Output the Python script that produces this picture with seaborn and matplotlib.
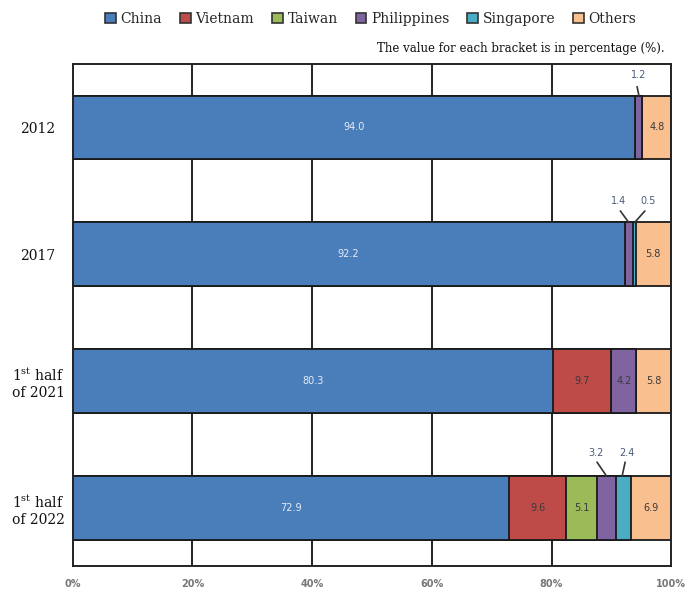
import numpy as np
import pandas as pd
import matplotlib
matplotlib.use("Agg")
import matplotlib.pyplot as plt
from matplotlib.patches import Patch
import seaborn as sns

# ---- data ----
periods = ["2012", "2017", "1st half of 2021", "1st half of 2022"]
period_labels = ["2012", "2017", "1$^{\\mathrm{st}}$ half\nof 2021", "1$^{\\mathrm{st}}$ half\nof 2022"]
series = ["China", "Vietnam", "Taiwan", "Philippines", "Singapore", "Others"]
china = [94.0, 92.2, 80.3, 72.9]
vietnam = [0.0, 0.0, 9.7, 9.6]
taiwan = [0.0, 0.0, 0.0, 5.1]
philippines = [1.2, 1.4, 4.2, 3.2]
singapore = [0.0, 0.5, 0.0, 2.4]
others = [4.8, 5.8, 5.8, 6.9]
xticks = [0, 20, 40, 60, 80, 100]
xtick_labels = ["0%", "20%", "40%", "60%", "80%", "100%"]

colors = ["#4A7EBB", "#BE4B48", "#9BBB59", "#8064A2", "#4BACC6", "#F9BF8F"]

values = np.array([china, vietnam, taiwan, philippines, singapore, others])
cum = np.cumsum(values, axis=0)

sns.set_style("white")
plt.rcParams["font.family"] = ["DejaVu Serif"]
plt.rcParams["mathtext.fontset"] = "dejavuserif"

fig = plt.figure(figsize=(6.87, 5.91), dpi=100)
ax = fig.add_axes([0.106, 0.042, 0.871, 0.850])

# vertical grid behind bars
for xv in xticks[1:-1]:
    ax.axvline(xv, color="#222222", lw=1.4, zorder=0)

# stacked bars: draw cumulative totals from the last series back to the first
for i in range(len(series) - 1, -1, -1):
    df = pd.DataFrame({"period": periods, "value": cum[i]})
    sns.barplot(data=df, x="value", y="period", orient="h", color=colors[i],
                saturation=1, width=0.5, edgecolor="#1a1a1a", linewidth=1.3,
                ax=ax, zorder=2)

# value labels inside segments
lefts = cum - values
for i in range(len(series)):
    for j in range(len(periods)):
        v = values[i, j]
        if v >= 4.0:
            xc = lefts[i, j] + v / 2
            col = "#E6ECF5" if i == 0 else "#3a3a3a"
            ax.text(xc, j, f"{v:.1f}", ha="center", va="center", fontsize=7,
                    color=col, family="DejaVu Sans", zorder=5)

# small values annotated above with leader lines
ann_color = "#4a5a7a"
def leader(txt, tx, ty, lx0, ly0, lx1, ly1):
    ax.text(tx, ty, txt, ha="center", va="center", fontsize=7, color=ann_color,
            family="DejaVu Sans", zorder=5)
    ax.plot([lx0, lx1], [ly0, ly1], color="#333333", lw=1.2, zorder=5, clip_on=False)

leader(f"{philippines[0]:.1f}", 94.5, -0.41, 94.3, -0.32, 94.6, -0.25)
leader(f"{philippines[1]:.1f}", 91.2, 0.58, 91.5, 0.66, 92.9, 0.75)
leader(f"{singapore[1]:.1f}", 96.1, 0.58, 95.6, 0.66, 93.9, 0.75)
leader(f"{philippines[3]:.1f}", 87.5, 2.57, 87.6, 2.64, 89.2, 2.75)
leader(f"{singapore[3]:.1f}", 92.6, 2.57, 92.3, 2.64, 91.8, 2.75)

ax.set_xlim(0, 100)
ax.set_ylim(3.46, -0.5)
ax.set_xticks(xticks)
ax.set_xticklabels(xtick_labels, family="DejaVu Sans", fontsize=7,
                   color="#777777", fontweight="bold")
ax.set_yticks(range(len(periods)))
ax.set_yticklabels(period_labels, fontsize=10, color="#111111")
ax.set_yticks([0.5, 1.5, 2.5], minor=True)
ax.tick_params(axis="y", which="major", length=0, pad=25)
ax.tick_params(axis="y", which="minor", length=3, direction="in", width=1.2, color="#222222")
ax.tick_params(axis="x", length=0, pad=9)
for lab in ax.get_yticklabels():
    lab.set_ha("center")
    lab.set_multialignment("center")
ax.set_xlabel("")
ax.set_ylabel("")
for s in ax.spines.values():
    s.set_visible(True)
    s.set_color("#222222")
    s.set_linewidth(1.4)

handles = [Patch(facecolor=c, edgecolor="#333333", linewidth=1.2) for c in colors]
fig.legend(handles, series, loc="center", bbox_to_anchor=(0.54, 0.968), ncol=6,
           frameon=False, fontsize=10, handlelength=0.75, handleheight=0.75,
           handletextpad=0.35, columnspacing=1.3)
fig.text(0.968, 0.918, "The value for each bracket is in percentage (%).",
         ha="right", va="center", fontsize=8.5, color="#111111")

fig.savefig("out.png", dpi=100)
